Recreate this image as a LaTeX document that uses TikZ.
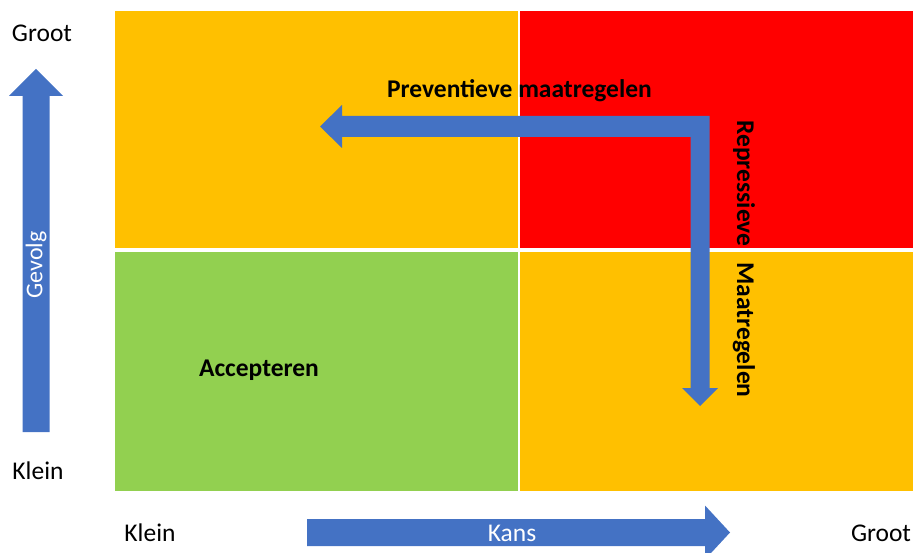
\documentclass[tikz,border=0pt]{standalone}
\usepackage{fontspec}
\setmainfont{Carlito}
\definecolor{oranje}{HTML}{FFC000}
\definecolor{rood}{HTML}{FF0000}
\definecolor{groen}{HTML}{92D050}
\definecolor{blauw}{HTML}{4472C4}
\newcommand{\groot}[0]{\fontsize{25.5}{30}\selectfont}

\begin{document}
\begin{tikzpicture}[x=1pt, y=-1pt]
  \tikzset{vak/.style={anchor=north west,inner sep=0pt,minimum width=#1},
           as/.style={font=\groot,inner sep=0pt},
           tekst/.style={font=\groot\bfseries,inner sep=0pt},
           pijl/.style={fill=blauw}}
  \clip (0,0) rectangle (913,553);
  % de vier vlakken
  \node[vak=403pt, minimum height=237pt, fill=oranje] (lb) at (115,11) {};
  \node[vak=393pt, minimum height=237pt, fill=rood] (rb) at (520,11) {};
  \node[vak=403pt, minimum height=239pt, fill=groen] (lo) at (115,252) {};
  \node[vak=393pt, minimum height=239pt, fill=oranje] (ro) at (520,252) {};
  % pijlen
  \fill[pijl] (22.5,432) -- (22.5,96) -- (9,96) -- (36,69) -- (63,96)
    -- (49.5,96) -- (49.5,432) -- cycle;
  \fill[pijl] (307,519) -- (705,519) -- (705,505.5) -- (730,532.5)
    -- (705,559.5) -- (705,546) -- (307,546) -- cycle;
  \fill[pijl] (709.5,116) -- (709.5,388) -- (718,388) -- (700,406) -- (682,388)
    -- (690.5,388) -- (690.5,137) -- (342,137) -- (342,148) -- (320,126.5)
    -- (342,105) -- (342,116) -- cycle;
  % teksten
  \node[as] (grootv) at (42,33) {Groot};
  \node[as] (kleinv) at (38,471) {Klein};
  \node[as] (kleinh) at (150,533) {Klein};
  \node[as] (grooth) at (881,533) {Groot};
  \node[as, font=\fontsize{24}{28}\selectfont, text=white, rotate=90] (gevolg) at (36,265) {Gevolg};
  \node[as, text=white] (kans) at (512,533) {Kans};
  \node[tekst, anchor=base] (prev) at (519.5,97.5) {Preventieve maatregelen};
  \node[tekst, anchor=base] (acc) at (259,376) {Accepteren};
  \node[tekst, rotate=-90] (rep) at (744,259) {Repressieve\hspace{16pt}Maatregelen};
\end{tikzpicture}
\end{document}
